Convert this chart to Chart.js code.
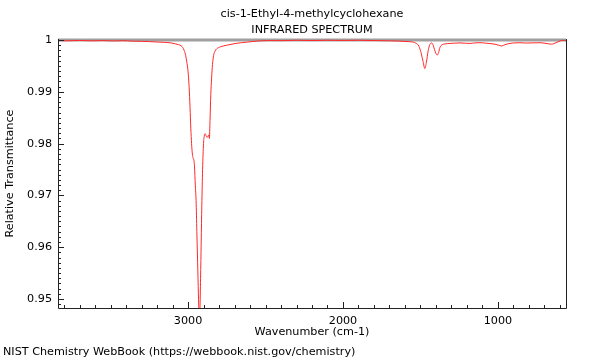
<!doctype html>
<html lang="en">
  <head>
    <meta charset="UTF-8" />
    <title>cis-1-Ethyl-4-methylcyclohexane IR</title>
    <script src="https://cdn.jsdelivr.net/npm/chart.js"></script>
    <style>
      body { margin: 0; background: #fff; }
    </style>
  </head>
  <body>
    <canvas id="irChart" width="600" height="360"></canvas>

    <script>
      // Spectrum
      const wavenumber = [
        3839, 3780, 3700, 3620, 3550, 3480, 3420, 3360, 3300, 3250, 3200, 3150,
        3110, 3080, 3060, 3045, 3035, 3025, 3015, 3008, 3000, 2993, 2987, 2982,
        2977, 2972, 2967, 2962, 2958, 2953, 2948, 2943, 2938, 2933, 2929, 2926,
        2923, 2919, 2915, 2911, 2906, 2900, 2895, 2889, 2883, 2877, 2871, 2866,
        2862, 2858, 2853, 2848, 2842, 2835, 2825, 2815, 2790, 2750, 2690, 2620,
        2550, 2480, 2400, 2300, 2200, 2100, 2000, 1900, 1800, 1700, 1640, 1600,
        1560, 1530, 1510, 1495, 1483, 1472, 1462, 1450, 1440, 1428, 1418, 1410,
        1400, 1392, 1383, 1374, 1360, 1342, 1310, 1280, 1245, 1210, 1181, 1150,
        1116, 1080, 1052, 1020, 995, 976, 955, 923, 890, 858, 820, 774, 729, 690,
        654, 625, 600, 581, 561,
      ];
      const transmittance = [
        0.9999, 0.99985, 0.99992, 0.99985, 0.9999, 0.99982, 0.99988, 0.99978,
        0.99975, 0.9997, 0.99962, 0.99955, 0.99945, 0.99925, 0.9991, 0.9989,
        0.9986, 0.998, 0.997, 0.9958, 0.994, 0.991, 0.987, 0.983, 0.98, 0.978,
        0.9772, 0.9768, 0.9755, 0.972, 0.969, 0.963, 0.957, 0.951, 0.947,
        0.9455, 0.948, 0.954, 0.961, 0.968, 0.975, 0.98, 0.9815, 0.9819, 0.9815,
        0.9812, 0.9814, 0.9817, 0.981, 0.9845, 0.9895, 0.9925, 0.9953, 0.997,
        0.9979, 0.9983, 0.9987, 0.999, 0.99935, 0.9996, 0.9998, 0.9999, 0.99988,
        0.99995, 0.9999, 0.99995, 0.99992, 0.99995, 0.9999, 0.99985, 0.9998,
        0.99972, 0.99965, 0.9994, 0.9988, 0.9974, 0.9958, 0.9945, 0.9957, 0.998,
        0.9991, 0.99945, 0.999, 0.9982, 0.9974, 0.9971, 0.9976, 0.9986, 0.9991,
        0.99925, 0.99935, 0.9994, 0.99945, 0.99938, 0.99935, 0.99945, 0.99948,
        0.9994, 0.99932, 0.9992, 0.999, 0.99885, 0.9991, 0.99935, 0.99945,
        0.99948, 0.99942, 0.99945, 0.99948, 0.99935, 0.9992, 0.9995, 0.9998,
        0.99995, 0.99985,
      ];

      const xTicks = [1000, 2000, 3000];
      const yTicks = [0.95, 0.96, 0.97, 0.98, 0.99, 1];
      const titleLines = ["cis-1-Ethyl-4-methylcyclohexane", "INFRARED SPECTRUM"];
      const footer = "NIST Chemistry WebBook (https://webbook.nist.gov/chemistry)";

      Chart.defaults.font.family = "'DejaVu Sans', sans-serif";
      Chart.defaults.font.size = 11.2;
      Chart.defaults.color = "#000";

      // Frame, inward ticks, titles and footer
      const framePlugin = {
        id: "frame",
        beforeDatasetsDraw(chart) {
          const { ctx, chartArea: a, scales } = chart;
          const yTop = scales.y.getPixelForValue(1);
          ctx.save();
          ctx.strokeStyle = "#a0a0a0";
          ctx.lineWidth = 3;
          ctx.beginPath();
          ctx.moveTo(a.left, yTop);
          ctx.lineTo(a.right, yTop);
          ctx.stroke();
          ctx.restore();
        },
        afterDraw(chart) {
          const { ctx, chartArea: a, scales } = chart;
          ctx.save();
          ctx.strokeStyle = "#222";
          ctx.lineWidth = 1;
          ctx.beginPath();
          ctx.moveTo(a.left + 0.5, a.top);
          ctx.lineTo(a.left + 0.5, a.bottom + 0.5);
          ctx.lineTo(a.right + 0.5, a.bottom + 0.5);
          ctx.lineTo(a.right + 0.5, a.top);
          ctx.stroke();

          // x ticks every 100 cm-1
          ctx.beginPath();
          for (let w = 600; w <= 3800; w += 100) {
            const px = Math.round(scales.x.getPixelForValue(w)) + 0.5;
            const len = w % 1000 === 0 ? 6 : 3;
            ctx.moveTo(px, a.bottom);
            ctx.lineTo(px, a.bottom - len);
          }
          // y ticks every 0.001
          for (let k = 949; k <= 1000; k++) {
            const py = Math.round(scales.y.getPixelForValue(k / 1000)) + 0.5;
            const len = k % 10 === 0 ? 6 : 3;
            ctx.moveTo(a.left, py);
            ctx.lineTo(a.left + len, py);
          }
          ctx.stroke();

          ctx.fillStyle = "#000";
          ctx.font = "11.2px 'DejaVu Sans'";
          ctx.textAlign = "center";
          ctx.textBaseline = "middle";
          const cx = (a.left + a.right) / 2;
          ctx.fillText(titleLines[0], cx, 14);
          ctx.fillText(titleLines[1], cx, 30);
          ctx.textAlign = "left";
          ctx.fillText(footer, 3, 352);
          ctx.restore();
        },
      };

      const ctx = document.getElementById("irChart").getContext("2d");
      const irChart = new Chart(ctx, {
        type: "line",
        data: {
          datasets: [
            {
              data: wavenumber.map((w, i) => ({ x: w, y: transmittance[i] })),
              borderColor: "rgb(255, 40, 40)",
              borderWidth: 1,
              pointRadius: 0,
              cubicInterpolationMode: "monotone",
            },
          ],
        },
        options: {
          responsive: false,
          animation: false,
          devicePixelRatio: 1,
          layout: { padding: { top: 39, right: 34, left: 0, bottom: 20 } },
          plugins: {
            legend: { display: false },
            tooltip: { enabled: false },
          },
          scales: {
            x: {
              type: "linear",
              reverse: true,
              min: 561,
              max: 3839,
              grid: { display: false, drawTicks: false },
              border: { display: false },
              afterBuildTicks: (s) => {
                s.ticks = xTicks.map((v) => ({ value: v }));
              },
              afterFit: (s) => {
                s.height = 32;
              },
              ticks: { padding: 6, maxRotation: 0, callback: (v) => String(v) },
              title: {
                display: true,
                text: "Wavenumber (cm-1)",
                padding: { top: 0, bottom: 1 },
              },
            },
            y: {
              min: 0.948263,
              max: 1.0002,
              grid: { display: false, drawTicks: false },
              border: { display: false },
              afterBuildTicks: (s) => {
                s.ticks = yTicks.map((v) => ({ value: v }));
              },
              afterFit: (s) => {
                s.width = 58;
              },
              ticks: {
                padding: 6,
                callback: (v) => String(+v.toFixed(2)),
              },
              title: {
                display: true,
                text: "Relative Transmittance",
                padding: { top: 3, bottom: 0 },
              },
            },
          },
        },
        plugins: [framePlugin],
      });
    </script>
  </body>
</html>
